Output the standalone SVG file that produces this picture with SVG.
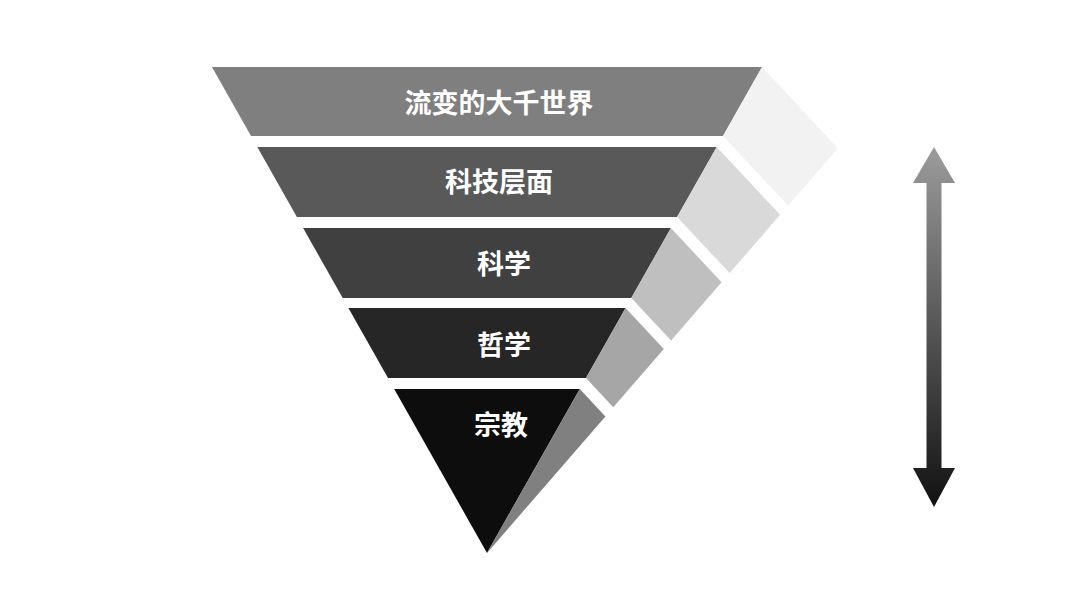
<svg xmlns="http://www.w3.org/2000/svg" width="1080" height="605" viewBox="0 0 1080 605">
  <defs>
    <linearGradient id="arrowGrad" gradientUnits="userSpaceOnUse" x1="0" y1="147" x2="0" y2="507">
      <stop offset="0" stop-color="#9c9c9c"/>
      <stop offset="1" stop-color="#111111"/>
    </linearGradient>
    <style>
      .label { font-family: "Noto Sans CJK SC", "Noto Sans", sans-serif; font-weight: 700; font-size: 27px; fill: #ffffff; text-anchor: middle; }
    </style>
  </defs>
  <rect width="1080" height="605" fill="#ffffff"/>

  <g id="layer1">
    <polygon points="212,67 762,67 723,136 251,136" fill="#7f7f7f"/>
    <polygon points="762,67 837.9,148.2 788.1,205.6 723,136" fill="#f2f2f2"/>
    <text class="label" x="499" y="113">流变的大千世界</text>
  </g>

  <g id="layer2">
    <polygon points="257.3,147 716.7,147 677.1,217 296.9,217" fill="#595959"/>
    <polygon points="716.7,147 780.1,214.8 729.6,273.1 677.1,217" fill="#d9d9d9"/>
    <text class="label" x="499" y="192">科技层面</text>
  </g>

  <g id="layer3">
    <polygon points="303.1,228 670.9,228 631.3,298 342.7,298" fill="#404040"/>
    <polygon points="670.9,228 721.6,282.3 671.1,340.6 631.3,298" fill="#bfbfbf"/>
    <text class="label" x="504" y="274">科学</text>
  </g>

  <g id="layer4">
    <polygon points="348.4,308 625.6,308 586,378 388,378" fill="#262626"/>
    <polygon points="625.6,308 663.8,348.9 613.3,407.2 586,378" fill="#a6a6a6"/>
    <text class="label" x="504" y="355">哲学</text>
  </g>

  <g id="layer5">
    <polygon points="394.2,389 579.8,389 487,553" fill="#0d0d0d"/>
    <polygon points="579.8,389 605.4,416.4 487,553" fill="#808080"/>
    <text class="label" x="501" y="435">宗教</text>
  </g>

  <g id="connectors">
    <polygon points="934,147 955,183 941.5,183 941.5,468 955,468 934,507 913,468 926.5,468 926.5,183 913,183" fill="url(#arrowGrad)"/>
  </g>
</svg>
